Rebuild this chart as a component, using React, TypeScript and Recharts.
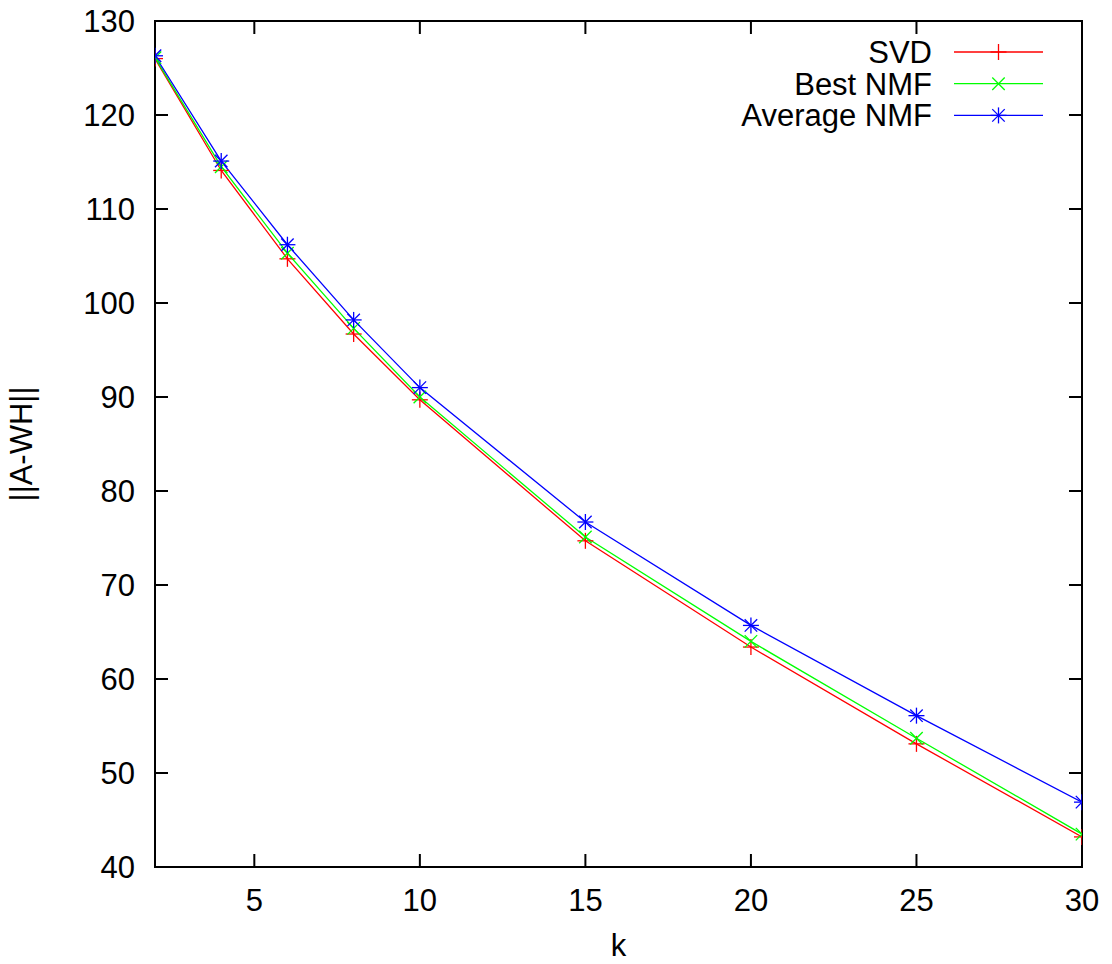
import React from "react";
import { LineChart, Line, XAxis, YAxis, ReferenceArea } from "recharts";

const ks = [2, 4, 6, 8, 10, 15, 20, 25, 30];
const svd = [126.0, 114.1, 104.7, 96.7, 89.7, 74.7, 63.4, 53.1, 43.2];
const bestNmf = [126.1, 114.5, 105.3, 97.3, 90.0, 75.1, 64.0, 53.7, 43.5];
const avgNmf = [126.3, 115.1, 106.2, 98.2, 91.0, 76.7, 65.7, 56.1, 46.9];

const xTicks = [5, 10, 15, 20, 25, 30];
const yTicks = [40, 50, 60, 70, 80, 90, 100, 110, 120, 130];

const data = ks.map((k, i) => ({ k, svd: svd[i], best: bestNmf[i], avg: avgNmf[i] }));

const FONT = "'Liberation Sans', Arial, Helvetica, sans-serif";
const FS = 31;
const R = 8;

type Mark = "plus" | "cross" | "star";

function marker(kind: Mark, cx: number, cy: number, color: string) {
  const parts: React.ReactNode[] = [];
  if (kind === "plus" || kind === "star") {
    parts.push(<line key="h" x1={cx - R} x2={cx + R} y1={cy} y2={cy} stroke={color} strokeWidth={1.3} />);
    parts.push(<line key="v" x1={cx} x2={cx} y1={cy - R} y2={cy + R} stroke={color} strokeWidth={1.3} />);
  }
  if (kind === "cross" || kind === "star") {
    const d = R * 0.78;
    parts.push(<line key="a" x1={cx - d} x2={cx + d} y1={cy - d} y2={cy + d} stroke={color} strokeWidth={1.3} />);
    parts.push(<line key="b" x1={cx - d} x2={cx + d} y1={cy + d} y2={cy - d} stroke={color} strokeWidth={1.3} />);
  }
  return parts;
}

const dotFor = (kind: Mark, color: string) => (p: any) => (
  <g key={`${kind}-${p.index}`}>{marker(kind, p.cx, p.cy, color)}</g>
);

const series: { key: string; name: string; color: string; mark: Mark }[] = [
  { key: "svd", name: "SVD", color: "#ff0000", mark: "plus" },
  { key: "best", name: "Best NMF", color: "#00ff00", mark: "cross" },
  { key: "avg", name: "Average NMF", color: "#0000ff", mark: "star" },
];

const BottomTick = (p: any) => (
  <g>
    <line x1={p.x} x2={p.x} y1={p.y} y2={p.y - 13} stroke="#000" strokeWidth={2} />
    <text x={p.x} y={p.y + 44} textAnchor="middle" fontFamily={FONT} fontSize={FS} fill="#000">
      {p.payload.value}
    </text>
  </g>
);

const TopTick = (p: any) => (
  <line x1={p.x} x2={p.x} y1={p.y} y2={p.y + 13} stroke="#000" strokeWidth={2} />
);

const LeftTick = (p: any) => (
  <g>
    <line x1={p.x} x2={p.x + 13} y1={p.y} y2={p.y} stroke="#000" strokeWidth={2} />
    <text x={p.x - 20} y={p.y + 11} textAnchor="end" fontFamily={FONT} fontSize={FS} fill="#000">
      {p.payload.value}
    </text>
  </g>
);

const RightTick = (p: any) => (
  <line x1={p.x} x2={p.x - 13} y1={p.y} y2={p.y} stroke="#000" strokeWidth={2} />
);

const LegendBox = () => (
  <svg width={460} height={110} style={{ position: "absolute", left: 600, top: 30 }}>
    {series.map((s, i) => {
      const y = 22 + i * 31.7;
      return (
        <g key={s.key}>
          <text x={332} y={y + 11} textAnchor="end" fontFamily={FONT} fontSize={FS} fill="#000">
            {s.name}
          </text>
          <line x1={354} x2={443} y1={y} y2={y} stroke={s.color} strokeWidth={1.3} />
          {marker(s.mark, 398.5, y, s.color)}
        </g>
      );
    })}
  </svg>
);

export default function App() {
  return (
    <div style={{ position: "absolute", left: 0, top: 0, width: 1112, height: 964, background: "#fff" }}>
      <LineChart width={1112} height={964} data={data} margin={{ top: 20, right: 29, left: 0, bottom: 0 }}>
        <XAxis
          dataKey="k"
          type="number"
          domain={[2, 30]}
          ticks={xTicks}
          allowDataOverflow
          height={97}
          tickSize={0}
          tickMargin={0}
          tickLine={false}
          tick={BottomTick}
          axisLine={{ stroke: "#000", strokeWidth: 2 }}
          label={{ value: "k", position: "insideBottom", offset: 8, fontFamily: FONT, fontSize: FS, fill: "#000" }}
        />
        <XAxis
          xAxisId="top"
          orientation="top"
          dataKey="k"
          type="number"
          domain={[2, 30]}
          ticks={xTicks}
          allowDataOverflow
          height={1}
          tickSize={0}
          tickMargin={0}
          tickLine={false}
          tick={TopTick}
          axisLine={false}
        />
        <YAxis
          type="number"
          domain={[40, 130]}
          ticks={yTicks}
          allowDataOverflow
          width={155}
          tickSize={0}
          tickMargin={0}
          tickLine={false}
          tick={LeftTick}
          axisLine={{ stroke: "#000", strokeWidth: 2 }}
          label={(props: any) => {
            const vb = props.viewBox;
            const cy = vb.y + vb.height / 2;
            return (
              <text
                x={32}
                y={cy}
                transform={`rotate(-90 32 ${cy})`}
                textAnchor="middle"
                fontFamily={FONT}
                fontSize={FS}
                fill="#000"
              >
                ||A-WH||
              </text>
            );
          }}
        />
        <YAxis
          yAxisId="right"
          orientation="right"
          type="number"
          domain={[40, 130]}
          ticks={yTicks}
          allowDataOverflow
          width={1}
          tickSize={0}
          tickMargin={0}
          tickLine={false}
          tick={RightTick}
          axisLine={false}
        />
        <ReferenceArea x1={2} x2={30} y1={40} y2={130} fill="none" stroke="#000" strokeWidth={2} ifOverflow="visible" />
        {series.map((s) => (
          <Line
            key={s.key}
            dataKey={s.key}
            name={s.name}
            stroke={s.color}
            strokeWidth={1.3}
            type="linear"
            dot={dotFor(s.mark, s.color)}
            activeDot={false}
            isAnimationActive={false}
          />
        ))}
      </LineChart>
      <LegendBox />
    </div>
  );
}
